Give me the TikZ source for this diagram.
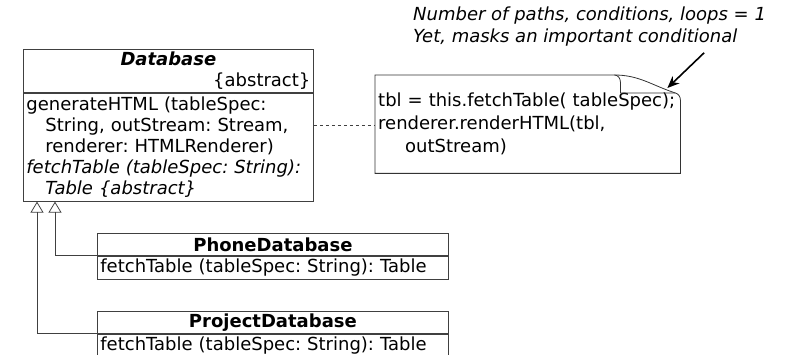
\documentclass[tikz,border=0pt]{standalone}
\usepackage{fontspec}
\setmainfont{DejaVu Sans}
\frenchspacing
\usetikzlibrary{arrows.meta,positioning,calc}

\begin{document}
\begin{tikzpicture}[
    x=1pt, y=-1pt,
    >={Stealth[length=12pt,width=10pt]},
    uml/.style={draw=black!75, line width=0.8pt, anchor=north west,
                inner xsep=3pt, inner ysep=0pt,
                font=\fontsize{18}{21}\selectfont},
    classhead/.style={uml, align=center, font=\fontsize{18}{20}\selectfont\bfseries},
    ops/.style={uml, align=left},
    note/.style={anchor=north west, inner xsep=3pt, minimum width=305pt,
                 minimum height=98pt, text width=299pt, align=left,
                 font=\fontsize{18}{23}\selectfont},
    noteline/.style={draw=black!80, line width=0.8pt},
    remark/.style={anchor=north west, inner sep=0pt, align=left,
                   font=\fontsize{18}{22}\selectfont\itshape},
    inherit/.style={draw=black!75, line width=0.8pt,
                    -{Triangle[open, length=11pt, width=13pt]}},
  ]

  \useasboundingbox (0,0) rectangle (785,355);

  % abstract base class
  \node[uml, text width=284pt, minimum height=43pt] (db) at (23,49)
    {{\centering\textbf{\textit{Database}}\par}
     {\raggedleft\{abstract\}\par}};
  \node[ops, text width=284pt, minimum height=108pt,
        below=0pt of db.south west, anchor=north west] (dbops)
    {generateHTML (tableSpec:\\
     \hspace*{19pt}String, outStream: Stream,\\
     \hspace*{19pt}renderer: HTMLRenderer)\\
     \textit{fetchTable (tableSpec: String):}\\
     \hspace*{19pt}\textit{Table \{abstract\}}};

  % subclasses
  \node[classhead, text width=345pt, minimum height=22pt] (phone) at (97,233)
    {PhoneDatabase};
  \node[ops, text width=345pt, minimum height=23pt,
        below=0pt of phone.south west, anchor=north west] (phoneops)
    {fetchTable (tableSpec: String): Table};

  \node[classhead, text width=345pt, minimum height=22pt] (project) at (97,311)
    {ProjectDatabase};
  \node[ops, text width=345pt, minimum height=22pt,
        below=0pt of project.south west, anchor=north west] (projectops)
    {fetchTable (tableSpec: String): Table};

  % note with folded corner
  \node[note] (code) at (375,75)
    {tbl = this.fetchTable( tableSpec);\\
     renderer.renderHTML(tbl,\\
     \hspace*{27pt}outStream)};
  \draw[noteline] (code.south west) -- (code.north west)
    -- ($(code.north east)+(-66,0)$)
    to[out=0,in=162] ($(code.north east)+(-5,18)$)
    to[out=-18,in=90] ($(code.north east)+(0,25)$)
    -- (code.south east) -- cycle;
  \draw[noteline] ($(code.north east)+(-66,0)$)
    to[out=0,in=90] ($(code.north east)+(-60,7)$)
    -- ($(code.north east)+(-60,18)$) -- ($(code.north east)+(-5,18)$);
  \coordinate (fold) at ($(code.north east)+(-13,13)$);

  \node[remark] (remark) at (413,7)
    {Number of paths, conditions, loops = 1\\
     Yet, masks an important conditional};

  % connectors
  \draw[dashed, draw=black!75, line width=0.8pt]
    ($(dbops.north east)!0.3!(dbops.south east)$) -- (code.west |- {$(dbops.north east)!0.3!(dbops.south east)$});
  \draw[->, line width=1.6pt] ($(remark.south east)+(-62,6)$) -- (fold);
  \draw[inherit] (phone.south west) -| ($(dbops.south west)+(32,0)$);
  \draw[inherit] (project.south west) -| ($(dbops.south west)+(14,0)$);

\end{tikzpicture}
\end{document}
